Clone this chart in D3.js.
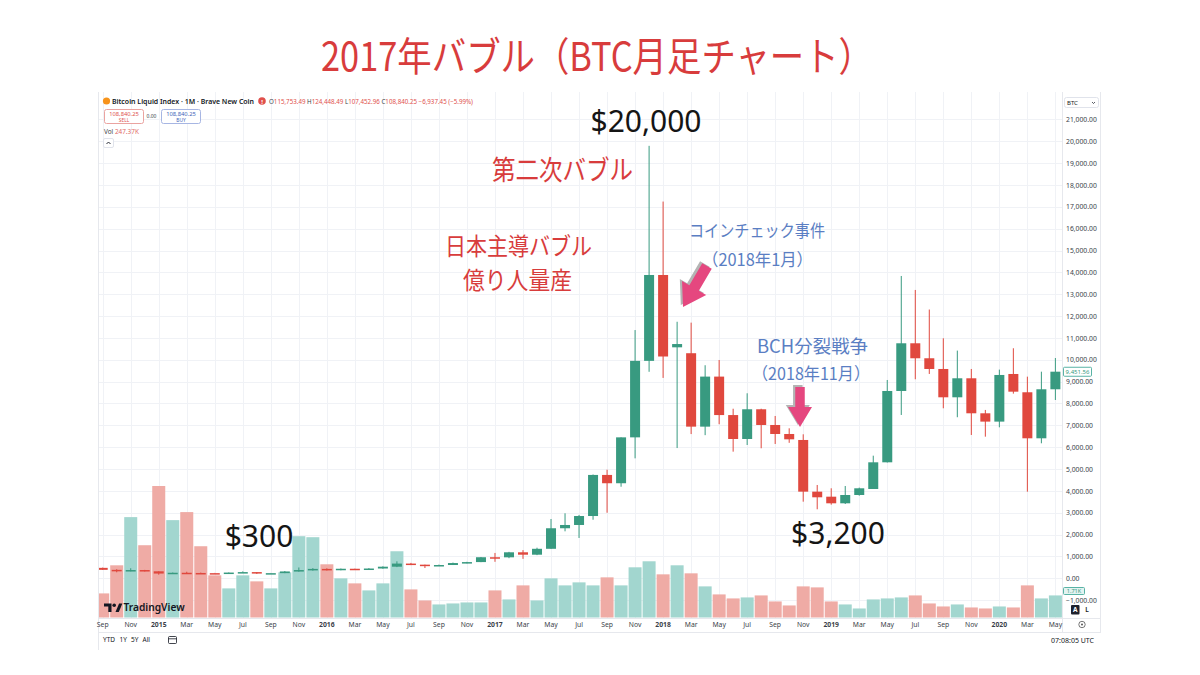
<!DOCTYPE html>
<html><head><meta charset="utf-8">
<script src="https://cdn.jsdelivr.net/npm/d3@7"></script>
<style>
html,body{margin:0;padding:0;background:#fff;}
svg{display:block;}
</style></head>
<body>
<svg id="c" width="1200" height="675"></svg>
<script>
// ---------------- DATA ----------------
const months = [
 "2014-09","2014-10","2014-11","2014-12",
 "2015-01","2015-02","2015-03","2015-04","2015-05","2015-06","2015-07","2015-08","2015-09","2015-10","2015-11","2015-12",
 "2016-01","2016-02","2016-03","2016-04","2016-05","2016-06","2016-07","2016-08","2016-09","2016-10","2016-11","2016-12",
 "2017-01","2017-02","2017-03","2017-04","2017-05","2017-06","2017-07","2017-08","2017-09","2017-10","2017-11","2017-12",
 "2018-01","2018-02","2018-03","2018-04","2018-05","2018-06","2018-07","2018-08","2018-09","2018-10","2018-11","2018-12",
 "2019-01","2019-02","2019-03","2019-04","2019-05","2019-06","2019-07","2019-08","2019-09","2019-10","2019-11","2019-12",
 "2020-01","2020-02","2020-03","2020-04","2020-05"];
const opens = [478,387,338,378, 320,217,254,244,236,230,263,284,230,236,314,377,
 430,368,437,416,448,531,674,624,575,608,698,742,
 964,960,1190,1080,1350,2290,2440,2850,4730,4350,6450,9950,
 13880,10570,10300,6940,9230,7470,6375,7735,7016,6604,6330,3965,
 3735,3432,3812,4087,5308,8572,10755,10069,9579,8283,9153,7551,
 7170,9350,8513,6407,8650];
const highs = [490,415,460,385, 320,265,300,262,247,267,317,285,244,334,495,467,
 460,448,440,467,548,778,704,626,628,720,755,976,
 1160,1210,1290,1400,2714,2975,2900,4750,4970,6450,11360,19790,
 17240,11740,11700,9750,9990,7760,8467,7760,7428,6864,6590,4270,
 4119,4224,4150,5611,9075,13835,13195,12300,10984,10420,9579,7704,
 9550,10527,9227,9455,10080];
const lows = [380,275,318,310, 165,212,237,213,226,218,255,199,225,236,300,350,
 355,366,392,414,436,512,604,470,574,607,683,739,
 755,920,890,1060,1350,2150,1845,2680,3000,4190,5490,9450,
 9170,5960,6600,6550,7050,5795,6100,5950,6146,6200,3506,3158,
 3370,3400,3780,4087,5300,7474,9108,9350,7780,7370,6558,6481,
 6910,8450,3963,6178,8160];
const closes = [387,338,378,320, 217,254,244,236,230,263,284,230,236,314,377,430,
 368,437,416,448,531,674,624,575,608,698,742,964,
 960,1190,1080,1350,2290,2440,2850,4730,4350,6450,9950,13880,
 10150,10720,6940,9230,7470,6375,7735,7016,6604,6360,3965,3707,
 3432,3812,4119,5308,8572,10755,10069,9579,8283,9153,7551,7170,
 9305,8540,6407,8650,9455];
// relative monthly volume (no scale shown on the chart)
const volumes = [240,520,1000,720, 1310,970,1050,710,420,290,420,360,290,450,810,800,
 530,390,340,270,340,660,280,170,130,140,150,150,
 270,180,320,170,390,320,350,320,400,320,500,560,
 430,520,440,310,230,190,200,220,160,120,310,300,
 160,130,90,180,190,200,220,140,110,130,100,90,
 110,100,320,190,220];
const priceTicks = [-1000,0,1000,2000,3000,4000,5000,6000,7000,8000,9000,10000,
 11000,12000,13000,14000,15000,16000,17000,18000,19000,20000,21000];
const timeTickMonths = months.filter((m,i)=>i%2===0);
const timeTickLabels = ["Sep","Nov","2015","Mar","May","Jul","Sep","Nov","2016","Mar","May","Jul",
 "Sep","Nov","2017","Mar","May","Jul","Sep","Nov","2018","Mar","May","Jul",
 "Sep","Nov","2019","Mar","May","Jul","Sep","Nov","2020","Mar","May"];
const lastPrice = 9451.56;

// ---------------- LAYOUT ----------------
const svg = d3.select("#c");
const pane = {l:99, r:1062, t:92, b:618};
const UP = "#389a80", DOWN = "#e0483e", UPV = "#a2d6cf", DOWNV = "#efaba5";
const tvFont = "'Noto Sans','Open Sans',sans-serif";
const jpFont = "'Noto Sans CJK JP','Noto Sans',sans-serif";

const x = d3.scaleBand().domain(months).range([95.7, 95.7 + 14.01*months.length]).paddingInner(0);
const y = d3.scaleLinear().domain([0,21000]).range([578.3,119.4]);
const yv = d3.scaleLinear().domain([0,1310]).range([617.5,486]);
const bw = x.bandwidth();
const xc = m => x(m) + bw/2;

const data = months.map((m,i)=>({m,o:opens[i],h:highs[i],l:lows[i],c:closes[i],v:volumes[i]}));

// title
svg.append("text").attr("x",597).attr("y",71).attr("text-anchor","middle")
  .attr("font-family",jpFont).attr("font-size",40).attr("fill","#d83c3c")
  .attr("textLength",552).attr("lengthAdjust","spacingAndGlyphs")
  .text("2017年バブル（BTC月足チャート）");

// screenshot frame lines
const frame = svg.append("g").attr("stroke","#e6e8ed").attr("stroke-width",1).attr("fill","none");
frame.append("line").attr("x1",98.5).attr("x2",98.5).attr("y1",92).attr("y2",650);
frame.append("line").attr("x1",1100.5).attr("x2",1100.5).attr("y1",92).attr("y2",633);
frame.append("line").attr("x1",pane.r+0.5).attr("x2",pane.r+0.5).attr("y1",92).attr("y2",633);
frame.append("line").attr("x1",99).attr("x2",1100).attr("y1",pane.b+0.5).attr("y2",pane.b+0.5);
frame.append("line").attr("x1",99).attr("x2",1100).attr("y1",632.5).attr("y2",632.5);

// clip
svg.append("clipPath").attr("id","pc").append("rect")
  .attr("x",pane.l).attr("y",pane.t).attr("width",pane.r-pane.l).attr("height",pane.b-pane.t);
const g = svg.append("g").attr("clip-path","url(#pc)");

// grid
g.append("g").selectAll("line").data(timeTickMonths).join("line")
  .attr("x1",d=>Math.round(xc(d))+0.5).attr("x2",d=>Math.round(xc(d))+0.5)
  .attr("y1",pane.t).attr("y2",pane.b).attr("stroke","#f0f2f6");
g.append("g").selectAll("line").data(priceTicks).join("line")
  .attr("x1",pane.l).attr("x2",pane.r)
  .attr("y1",d=>Math.round(y(d))+0.5).attr("y2",d=>Math.round(y(d))+0.5).attr("stroke","#f0f2f6");

// volume
g.append("g").selectAll("rect").data(data).join("rect")
  .attr("x",d=>x(d.m)+0.5).attr("width",bw-1)
  .attr("y",d=>yv(d.v)).attr("height",d=>yv(0)-yv(d.v))
  .attr("fill",d=>d.c>=d.o?UPV:DOWNV);

// candles
const cw = 10;
const cg = g.append("g");
cg.selectAll("line").data(data).join("line")
  .attr("x1",d=>xc(d.m)).attr("x2",d=>xc(d.m))
  .attr("y1",d=>y(d.h)).attr("y2",d=>y(d.l))
  .attr("stroke",d=>d.c>=d.o?UP:DOWN).attr("stroke-width",1);
cg.selectAll("rect").data(data).join("rect")
  .attr("x",d=>xc(d.m)-cw/2).attr("width",cw)
  .attr("y",d=>y(Math.max(d.o,d.c)))
  .attr("height",d=>Math.max(1.5,Math.abs(y(d.o)-y(d.c))))
  .attr("fill",d=>d.c>=d.o?UP:DOWN);

// price axis
const pa = svg.append("g").attr("transform",`translate(1064,0)`)
  .call(d3.axisRight(y).tickValues(priceTicks).tickFormat(d3.format(",.2f")).tickSize(0).tickPadding(2));
pa.select(".domain").remove();
pa.selectAll("text").attr("font-family",tvFont).attr("font-size",6.8).attr("fill","#3b3f4a");

// time axis
const ta = svg.append("g").attr("transform",`translate(0,${pane.b})`)
  .call(d3.axisBottom(x).tickValues(timeTickMonths).tickFormat((d,i)=>timeTickLabels[i]).tickSize(0).tickPadding(4));
ta.select(".domain").remove();
ta.selectAll("text").attr("font-family",tvFont).attr("font-size",6.8).attr("fill","#3b3f4a")
  .attr("font-weight",(d,i)=>/^\d{4}$/.test(timeTickLabels[i])?700:400);

// ---------- TradingView chrome ----------
const hdr = svg.append("g").attr("font-family",tvFont);
hdr.append("circle").attr("cx",106.5).attr("cy",101).attr("r",3.6).attr("fill","#f7931a");
hdr.append("text").attr("x",112).attr("y",103.8).attr("font-size",7.2).attr("font-weight",600).attr("fill","#131722")
  .attr("textLength",142).attr("lengthAdjust","spacingAndGlyphs")
  .text("Bitcoin Liquid Index · 1M · Brave New Coin");
hdr.append("circle").attr("cx",262).attr("cy",101).attr("r",3.8).attr("fill","#e0504c");
hdr.append("text").attr("x",262).attr("y",103.6).attr("font-size",6).attr("font-weight",700).attr("fill","#fff").attr("text-anchor","middle").text("!");
const ohlc = hdr.append("text").attr("x",269).attr("y",103.6).attr("font-size",6.2).attr("fill","#e0504c");
[["O","115,753.49 "],["H","124,448.49 "],["L","107,452.96 "],["C","108,840.25 −6,937.45 (−5.99%)"]].forEach(([a,b])=>{
  ohlc.append("tspan").attr("fill","#3b3f4a").text(a);
  ohlc.append("tspan").text(b);
});
hdr.append("rect").attr("x",104.5).attr("y",109.5).attr("width",39).attr("height",14).attr("rx",2)
  .attr("fill","#fff").attr("stroke","#eaa3a0");
hdr.append("text").attr("x",124).attr("y",116).attr("font-size",5.8).attr("fill","#e0504c").attr("text-anchor","middle").text("108,840.25");
hdr.append("text").attr("x",124).attr("y",121.5).attr("font-size",4.8).attr("fill","#e0504c").attr("text-anchor","middle").text("SELL");
hdr.append("text").attr("x",151.5).attr("y",118).attr("font-size",5).attr("fill","#3b3f4a").attr("text-anchor","middle").text("0.00");
hdr.append("rect").attr("x",161.5).attr("y",109.5).attr("width",39).attr("height",14).attr("rx",2)
  .attr("fill","#fff").attr("stroke","#a7b6e3");
hdr.append("text").attr("x",181).attr("y",116).attr("font-size",5.8).attr("fill","#3d5fb8").attr("text-anchor","middle").text("108,840.25");
hdr.append("text").attr("x",181).attr("y",121.5).attr("font-size",4.8).attr("fill","#3d5fb8").attr("text-anchor","middle").text("BUY");
const vt = hdr.append("text").attr("x",104).attr("y",134).attr("font-size",6.4).attr("fill","#3b3f4a");
vt.append("tspan").text("Vol ");
vt.append("tspan").attr("fill","#e06a66").text("247.37K");
hdr.append("rect").attr("x",103.5).attr("y",138.5).attr("width",10).attr("height",9).attr("rx",1.5).attr("fill","#fff").attr("stroke","#e0e3eb");
hdr.append("path").attr("d","M106.5 144 l2 -2 l2 2").attr("fill","none").attr("stroke","#131722").attr("stroke-width",0.9);

// right side chrome
const rs = svg.append("g").attr("font-family",tvFont);
rs.append("rect").attr("x",1064.5).attr("y",97.5).attr("width",34).attr("height",10).attr("rx",2).attr("fill","#fff").attr("stroke","#e0e3eb");
rs.append("text").attr("x",1067).attr("y",104.8).attr("font-size",6).attr("fill","#131722").text("BTC");
rs.append("path").attr("d","M1092 102 l1.5 1.5 l1.5 -1.5").attr("fill","none").attr("stroke","#131722").attr("stroke-width",0.7);
// last price label
rs.append("rect").attr("x",1063.5).attr("y",y(lastPrice)-4.5).attr("width",28).attr("height",9).attr("rx",1)
  .attr("fill","#fff").attr("stroke","#58b3a5");
rs.append("text").attr("x",1077.5).attr("y",y(lastPrice)+2.2).attr("font-size",6).attr("fill","#389a80").attr("text-anchor","middle")
  .text(d3.format(",.2f")(lastPrice));
// volume label (sits just above the -1,000 tick label)
rs.append("rect").attr("x",1063.5).attr("y",587.5).attr("width",21).attr("height",7).attr("rx",1)
  .attr("fill","#e3f3f1").attr("stroke","#58b3a5");
rs.append("text").attr("x",1074).attr("y",593.2).attr("font-size",5.6).attr("fill","#389a80").attr("text-anchor","middle").text("1.71K");
rs.append("rect").attr("x",1071).attr("y",605).attr("width",8.5).attr("height",9.5).attr("rx",1).attr("fill","#1e222d");
rs.append("text").attr("x",1075.2).attr("y",612.4).attr("font-size",6.5).attr("font-weight",700).attr("fill","#fff").attr("text-anchor","middle").text("A");
rs.append("text").attr("x",1087).attr("y",612.4).attr("font-size",6.5).attr("font-weight",600).attr("fill","#131722").attr("text-anchor","middle").text("L");
rs.append("circle").attr("cx",1082).attr("cy",624.5).attr("r",3.2).attr("fill","none").attr("stroke","#555").attr("stroke-width",0.8);
rs.append("circle").attr("cx",1082).attr("cy",624.5).attr("r",1).attr("fill","#555");
rs.append("text").attr("x",1094).attr("y",642.5).attr("font-size",7).attr("fill","#131722").attr("text-anchor","end").text("07:08:05 UTC");

// bottom toolbar
const bt = svg.append("g").attr("font-family",tvFont).attr("font-size",6.5).attr("fill","#131722");
[["YTD",103],["1Y",119.5],["5Y",131],["All",142.5]].forEach(([t,px])=>bt.append("text").attr("x",px).attr("y",642).text(t));
bt.append("rect").attr("x",168.5).attr("y",636.5).attr("width",8).attr("height",7).attr("rx",1).attr("fill","none").attr("stroke","#131722").attr("stroke-width",0.8);
bt.append("line").attr("x1",168.5).attr("x2",176.5).attr("y1",638.8).attr("y2",638.8).attr("stroke","#131722").attr("stroke-width",0.8);

// TradingView logo
const lg = svg.append("g");
lg.append("path").attr("d","M104 603.5 h7.5 v8.5 h-3.2 v-5.4 h-4.3z").attr("fill","#131722");
lg.append("circle").attr("cx",114.2).attr("cy",605.3).attr("r",1.8).attr("fill","#131722");
lg.append("path").attr("d","M115.5 612 l3.6 -8.5 h3.3 l-3.6 8.5z").attr("fill","#131722");
lg.append("text").attr("x",123.5).attr("y",611.3).attr("font-family",tvFont).attr("font-size",10.2).attr("font-weight",600)
  .attr("fill","#131722").text("TradingView");

// ---------- annotations ----------
const ann = svg.append("g");
function txt(t,cx,by,size,color,font,len){
  const e = ann.append("text").attr("x",cx).attr("y",by).attr("text-anchor","middle")
    .attr("font-family",font).attr("font-size",size).attr("fill",color).text(t);
  if(len) e.attr("textLength",len).attr("lengthAdjust","spacingAndGlyphs");
  return e;
}
const numFont = "'Noto Sans','Open Sans',sans-serif";
txt("$20,000",646,132,30,"#151515",numFont);
txt("$3,200",838,544,30,"#151515",numFont);
txt("$300",259,547,30,"#151515",numFont);
txt("第二次バブル",562.5,180,27,"#d83c3c",jpFont,141);
txt("日本主導バブル",518.5,255,24,"#d83c3c",jpFont,147);
txt("億り人量産",517.5,289,24,"#d83c3c",jpFont,109);
txt("コインチェック事件",757,237,17,"#5a7ec3",jpFont,136);
txt("（2018年1月）",757.5,266,17,"#5a7ec3",jpFont,111);
txt("BCH分裂戦争",812.5,353,18,"#5a7ec3",jpFont,111);
txt("（2018年11月）",811,380,17,"#5a7ec3",jpFont,118);

function arrow(tail,tip,sw,hw,hl){
  const dx=tip[0]-tail[0], dy=tip[1]-tail[1], L=Math.hypot(dx,dy);
  const ux=dx/L, uy=dy/L, nx=-uy, ny=ux;
  const bx=tip[0]-ux*hl, by=tip[1]-uy*hl;
  const p=[[tail[0]+nx*sw/2,tail[1]+ny*sw/2],[bx+nx*sw/2,by+ny*sw/2],[bx+nx*hw/2,by+ny*hw/2],tip,
    [bx-nx*hw/2,by-ny*hw/2],[bx-nx*sw/2,by-ny*sw/2],[tail[0]-nx*sw/2,tail[1]-ny*sw/2]];
  const d="M"+p.map(q=>q.join(",")).join("L")+"Z";
  ann.append("path").attr("d",d).attr("fill","#b4b4b4").attr("transform","translate(-2.2,-2)");
  ann.append("path").attr("d",d).attr("fill","#e5477f");
}
arrow([707,266],[683,307],11,28,22);
arrow([800,387],[800,427],9.5,24,20);
</script>
</body></html>
